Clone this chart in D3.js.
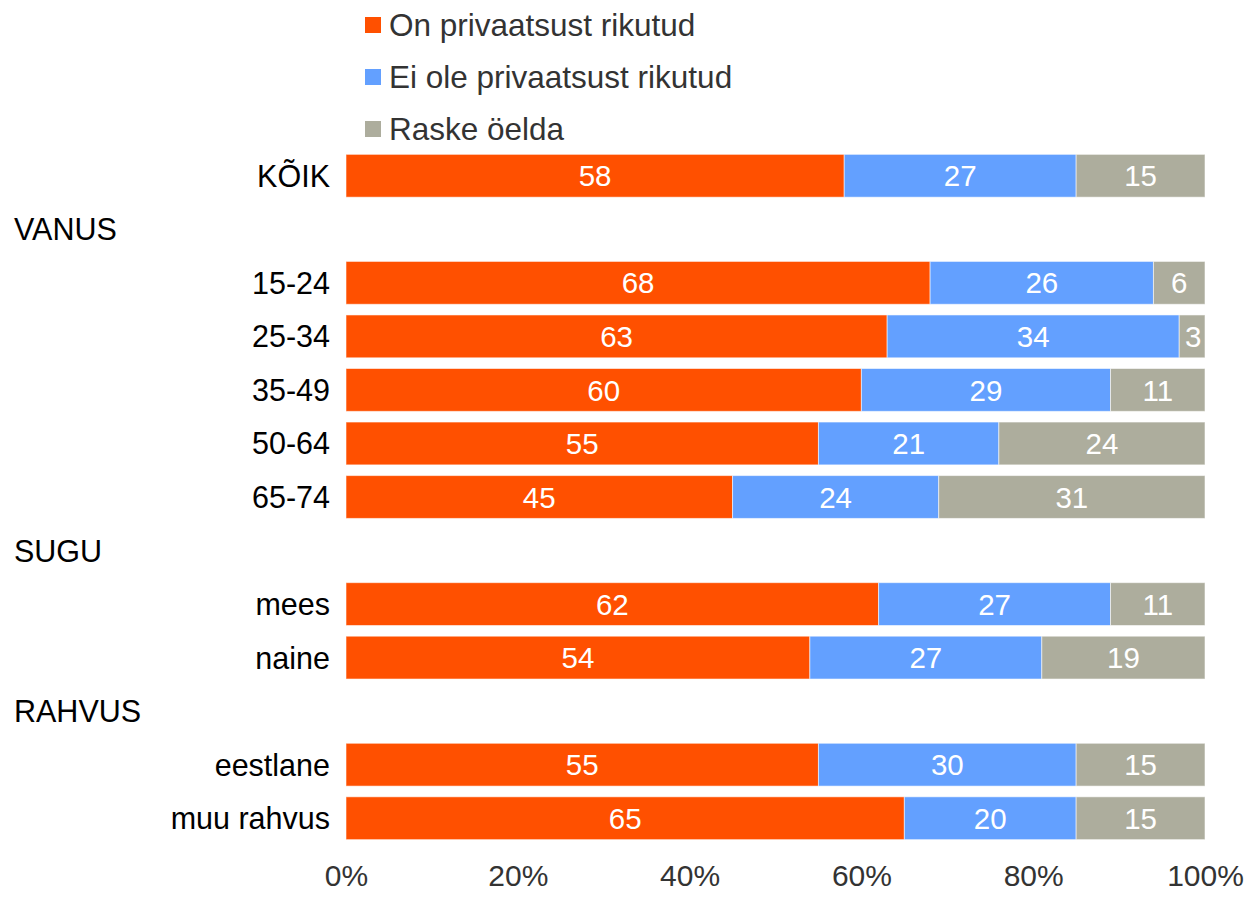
<!DOCTYPE html>
<html>
<head>
<meta charset="utf-8">
<script src="https://cdn.jsdelivr.net/npm/d3@7"></script>
<style>
  body { margin: 0; background: #fff; }
  svg { display: block; font-family: "Liberation Sans", Arial, sans-serif; }
</style>
</head>
<body>
<svg id="chart" width="1253" height="897"></svg>
<script>
const categories = ["KÕIK", "VANUS", "15-24", "25-34", "35-49", "50-64", "65-74", "SUGU", "mees", "naine", "RAHVUS", "eestlane", "muu rahvus"];
const isSection  = [false, true, false, false, false, false, false, true, false, false, true, false, false];
const onRikutud    = [58, null, 68, 63, 60, 55, 45, null, 62, 54, null, 55, 65];
const eiOleRikutud = [27, null, 26, 34, 29, 21, 24, null, 27, 27, null, 30, 20];
const raskeOelda   = [15, null, 6, 3, 11, 24, 31, null, 11, 19, null, 15, 15];
const seriesNames = ["On privaatsust rikutud", "Ei ole privaatsust rikutud", "Raske öelda"];
const seriesColors = ["#FF5000", "#63A0FF", "#ADAD9D"];
const tickValues = [0, 20, 40, 60, 80, 100];

const svg = d3.select("#chart");
const x = d3.scaleLinear().domain([0, 100]).range([346, 1205]);
const y = d3.scaleBand().domain(categories).range([149, 845]).paddingInner(0.2).paddingOuter(0.1);

const rows = categories.map((c, i) => ({
  cat: c, section: isSection[i],
  vals: [onRikutud[i], eiOleRikutud[i], raskeOelda[i]]
}));

// bars
rows.filter(r => !r.section).forEach(r => {
  let cum = 0;
  r.vals.forEach((v, k) => {
    const x0 = cum, x1 = cum + v;
    cum = x1;
    svg.append("rect")
      .attr("x", x(x0)).attr("y", y(r.cat))
      .attr("width", x(x1) - x(x0)).attr("height", y.bandwidth())
      .attr("fill", seriesColors[k])
      .attr("stroke", "rgba(255,255,255,0.55)").attr("stroke-width", 1);
    svg.append("text")
      .attr("x", (x(x0) + x(x1)) / 2 + (v < 5 ? 1 : 0))
      .attr("y", y(r.cat) + y.bandwidth() / 2)
      .attr("dy", "0.36em")
      .attr("text-anchor", "middle")
      .attr("fill", "#fff")
      .attr("font-size", 29.5)
      .text(v);
  });
});

// category labels
rows.forEach(r => {
  svg.append("text")
    .attr("x", r.section ? 14 : 330)
    .attr("y", y(r.cat) + y.bandwidth() / 2)
    .attr("dy", "0.36em")
    .attr("text-anchor", r.section ? "start" : "end")
    .attr("fill", "#000")
    .attr("font-size", 30.5)
    .text(r.cat);
});

// x axis ticks
const axis = d3.axisBottom(x).tickValues(tickValues).tickFormat(d => d + "%").tickSize(0);
const gx = svg.append("g").attr("transform", "translate(0,862)").call(axis);
gx.select(".domain").remove();
gx.selectAll("text").attr("font-size", 30).attr("fill", "#333")
  .attr("font-family", "'Liberation Sans', Arial, sans-serif").attr("dy", "0.71em");

// legend
const legend = svg.append("g");
seriesNames.forEach((name, k) => {
  const cy = 25 + k * 52;
  legend.append("rect").attr("x", 365).attr("y", cy - 8).attr("width", 16).attr("height", 16).attr("fill", seriesColors[k]);
  legend.append("text").attr("x", 389).attr("y", cy).attr("dy", "0.36em")
    .attr("font-size", 31.5).attr("fill", "#333").text(name);
});
</script>
</body>
</html>
